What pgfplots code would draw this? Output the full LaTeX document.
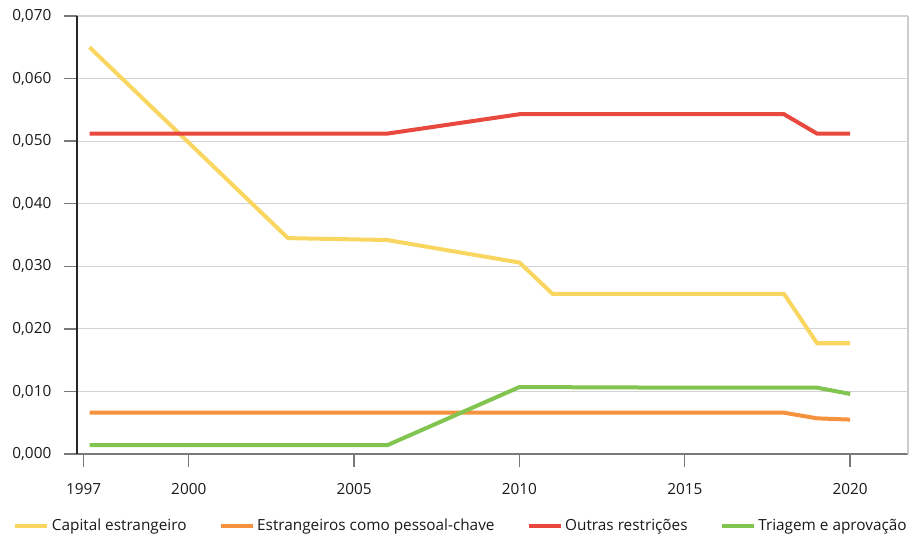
\documentclass[border=0pt]{standalone}
\usepackage{fontspec}
\setmainfont{Open Sans}
\usepackage{pgfplots}
\pgfplotsset{compat=1.18}
\definecolor{cyel}{RGB}{248,214,96}
\definecolor{cora}{RGB}{245,146,62}
\definecolor{cred}{RGB}{232,72,62}
\definecolor{cgre}{RGB}{130,196,80}
\begin{document}
\begin{tikzpicture}
\begin{axis}[
  scale only axis,
  width=623.25pt, height=328.5pt,
  xmin=1996.62, xmax=2021.75,
  ymin=0, ymax=0.07,
  axis lines*=left,
  x axis line style={draw=gray!95!black, line width=1.2pt},
  y axis line style={draw=black!85, line width=0.9pt},
  xtick={1996.82,2000,2005,2010,2015,2020},
  xticklabels={1997,2000,2005,2010,2015,2020},
  ytick={0,0.01,0.02,0.03,0.04,0.05,0.06,0.07},
  scaled y ticks=false,
  yticklabel style={/pgf/number format/fixed, /pgf/number format/fixed zerofill, /pgf/number format/precision=3, /pgf/number format/use comma, xshift=-6pt},
  /pgf/number format/assume math mode=true,
  tick align=outside,
  major tick length=9.75pt,
  every tick/.style={draw=gray!95!black, line width=1pt},
  ymajorgrids,
  grid style={draw=gray!35, line width=0.8pt},
  tick label style={font=\fontsize{11.5}{13.5}\selectfont, text=black!90},
  xticklabel style={yshift=-8.5pt},
  legend columns=4,
  legend style={at={(axis description cs:0,0)}, anchor=west, xshift=-48pt, yshift=-54pt,
    draw=none, fill=none, inner sep=0pt, font=\fontsize{11.5}{13.5}\selectfont, text=black!90,
    /tikz/every even column/.append style={column sep=22pt}},
  legend cell align=left,
  legend image code/.code={\draw[#1] (0pt,0pt) -- (24pt,0pt);},
  every axis plot/.append style={line width=3pt, line join=miter},
  clip=false,
]
\addplot[cyel] coordinates {(1997,0.0650) (2003,0.0345) (2006,0.0342) (2010,0.0306) (2011,0.0256) (2018,0.0256) (2019,0.0177) (2020,0.0177)};
\addlegendentry{Capital estrangeiro}
\addplot[cora] coordinates {(1997,0.0066) (2018,0.0066) (2019,0.0057) (2020,0.0055)};
\addlegendentry{Estrangeiros como pessoal-chave}
\addplot[cred] coordinates {(1997,0.0512) (2006,0.0512) (2010,0.0543) (2018,0.0543) (2019,0.0512) (2020,0.0512)};
\addlegendentry{Outras restrições}
\addplot[cgre] coordinates {(1997,0.0014) (2006,0.0014) (2010,0.0107) (2015,0.0106) (2019,0.0106) (2020,0.0096)};
\addlegendentry{Triagem e aprovação}
\draw[gray!40, line width=1pt] (rel axis cs:1,0) -- (rel axis cs:1,1);
\end{axis}
\pgfresetboundingbox
\path[use as bounding box] (-57.75pt,-60.75pt) rectangle (626.25pt,340.5pt);
\end{tikzpicture}
\end{document}
